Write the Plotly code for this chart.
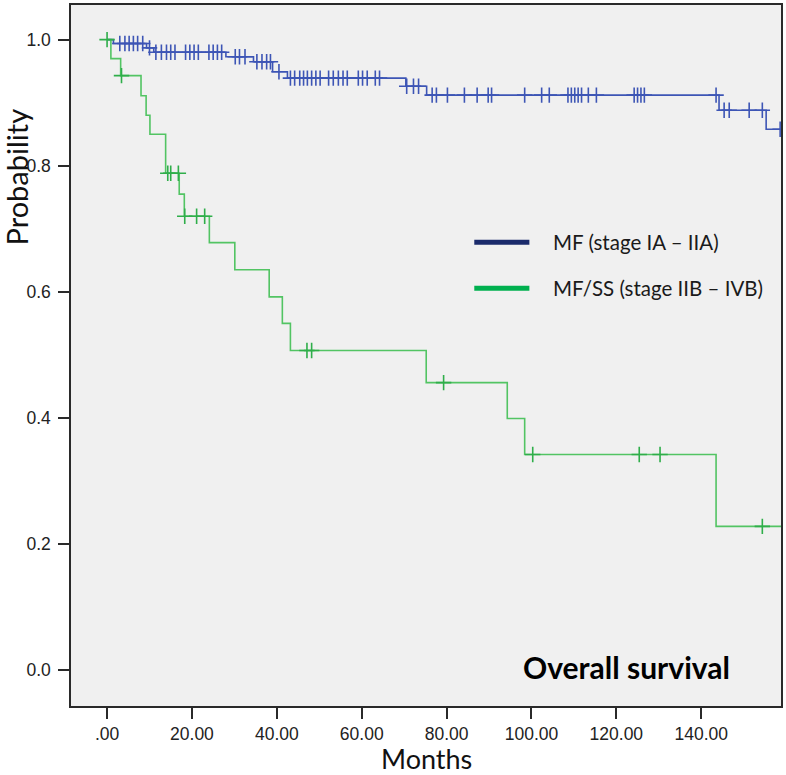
import plotly.graph_objects as go

# ---- data ----
mf_step_t = [0, 1.5, 9.3, 11.0, 28.0, 34.5, 39.0, 42.5, 70.4, 75.3, 144.2, 155.3, 158.6]
mf_step_s = [1.0, 0.994, 0.987, 0.980, 0.973, 0.965, 0.949, 0.939, 0.926, 0.912, 0.888, 0.858, 0.858]
mf_cens_t = [3.0, 4.2, 5.2, 6.2, 7.2, 8.4, 10.0,
             11.5, 12.8, 14.0, 15.0, 16.0, 18.5, 19.5, 20.5, 21.5, 24.0, 25.0, 26.0, 27.0,
             30.2, 31.2, 32.5, 35.3, 36.5, 37.6, 38.5, 40.5,
             43.2, 44.2, 45.4, 46.3, 47.2, 48.2, 49.2, 50.2, 52.2, 53.3, 54.5, 55.6, 56.6,
             59.2, 60.2, 61.3, 63.2, 64.2,
             70.6, 72.2, 73.4,
             76.6, 77.6, 80.2, 84.2, 87.2, 89.8, 90.6, 98.4, 102.4, 104.2,
             108.6, 109.4, 110.2, 111.0, 111.8, 113.4, 115.3, 124.2, 125.0, 125.8, 126.6, 143.5,
             145.4, 146.6, 151.3, 154.4, 158.6]

ss_step_t = [0, 0.9, 3.2, 8.0, 9.2, 10.1, 13.8, 17.0, 18.2, 24.1, 30.1, 38.2, 41.3, 43.2,
             75.2, 94.3, 98.4, 143.5, 158.8]
ss_step_s = [1.0, 0.970, 0.943, 0.911, 0.880, 0.850, 0.788, 0.755, 0.720, 0.678, 0.635,
             0.592, 0.550, 0.507, 0.456, 0.399, 0.342, 0.228, 0.228]
ss_cens_t = [0.0, 3.4, 14.3, 15.0, 16.8, 18.3, 21.1, 23.0, 47.1, 48.2, 79.3, 100.3,
             125.4, 130.3, 154.4]

x_tick_vals = [0, 20, 40, 60, 80, 100, 120, 140]
x_tick_text = [".00", "20.00", "40.00", "60.00", "80.00", "100.00", "120.00", "140.00"]
y_tick_vals = [0.0, 0.2, 0.4, 0.6, 0.8, 1.0]

legend_names = ["MF (stage IA \u2013 IIA)", "MF/SS (stage IIB \u2013 IVB)"]


def surv_at(times, steps_t, steps_s):
    out = []
    for t in times:
        s = steps_s[0]
        for tt, ss in zip(steps_t, steps_s):
            if tt <= t:
                s = ss
        out.append(s)
    return out


MF_LINE = "#3d55b5"
SS_LINE = "#52c463"
SS_MARK = "#2fae4a"

fig = go.Figure()
fig.add_trace(go.Scatter(x=mf_step_t, y=mf_step_s, mode="lines",
                         line=dict(color=MF_LINE, width=1.6, shape="hv"),
                         showlegend=False, hoverinfo="skip"))
fig.add_trace(go.Scatter(x=ss_step_t, y=ss_step_s, mode="lines",
                         line=dict(color=SS_LINE, width=1.6, shape="hv"),
                         showlegend=False, hoverinfo="skip"))
fig.add_trace(go.Scatter(x=mf_cens_t, y=surv_at(mf_cens_t, mf_step_t, mf_step_s), mode="markers",
                         marker=dict(symbol="cross-thin", size=11,
                                     line=dict(color=MF_LINE, width=1.6)),
                         showlegend=False, hoverinfo="skip"))
fig.add_trace(go.Scatter(x=ss_cens_t, y=surv_at(ss_cens_t, ss_step_t, ss_step_s), mode="markers",
                         marker=dict(symbol="cross-thin", size=11,
                                     line=dict(color=SS_MARK, width=1.6)),
                         showlegend=False, hoverinfo="skip"))

axis_common = dict(showline=True, linecolor="#2a2a2a", linewidth=1.5, mirror=True,
                   ticks="outside", ticklen=11, tickwidth=1.5, tickcolor="#2a2a2a",
                   showgrid=False, zeroline=False,
                   tickfont=dict(family="Liberation Sans, Arial, sans-serif", size=17.5, color="#222"))

fig.update_xaxes(range=[-8.5, 158.8], tickvals=x_tick_vals, ticktext=x_tick_text,
                 ticklabelstandoff=0, **axis_common)
fig.update_yaxes(range=[-0.057, 1.055], tickvals=y_tick_vals, tickformat=".1f",
                 ticklabelstandoff=4, **axis_common)

# custom legend
leg_colors = ["#1b2b6b", "#00b04f"]
leg_y = [0.6615, 0.596]
for name, col, yy in zip(legend_names, leg_colors, leg_y):
    fig.add_shape(type="line", xref="paper", yref="paper", x0=0.568, x1=0.6456, y0=yy, y1=yy,
                  line=dict(color=col, width=5))
    fig.add_annotation(xref="paper", yref="paper", x=0.6765, y=yy, text=name, showarrow=False,
                       xanchor="left", yanchor="middle",
                       font=dict(family="Lato, Carlito, sans-serif", size=20.5, color="#1a1a1a"))

fig.add_annotation(xref="paper", yref="paper", x=0.931, y=0.0555, text="<b>Overall survival</b>",
                   showarrow=False, xanchor="right", yanchor="middle",
                   font=dict(family="Lato, Carlito, sans-serif", size=30, color="#000"))
fig.add_annotation(xref="paper", yref="paper", x=0.5, y=-0.0745, text="Months", showarrow=False,
                   xanchor="center", yanchor="middle",
                   font=dict(family="Lato, Carlito, sans-serif", size=27, color="#111"))
fig.add_annotation(xref="paper", yref="paper", x=-0.0765, y=0.755, text="Probability", showarrow=False,
                   textangle=-90, xanchor="center", yanchor="middle",
                   font=dict(family="Lato, Carlito, sans-serif", size=29, color="#111"))

fig.update_layout(width=786, height=775, margin=dict(l=71, r=4, t=3, b=69),
                  paper_bgcolor="white", plot_bgcolor="#f0f0f0")

fig.write_html("out.html", config={"displayModeBar": False},
               post_script="document.body.style.margin='0px';document.body.style.overflow='hidden';")
